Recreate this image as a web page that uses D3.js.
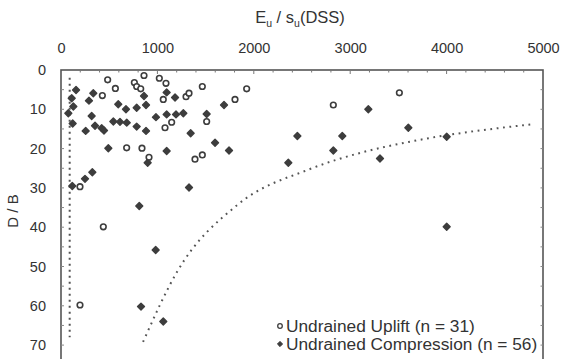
<!DOCTYPE html>
<html><head><meta charset="utf-8">
<script src="https://cdn.jsdelivr.net/npm/d3@7"></script>
<style>
html,body{margin:0;padding:0;background:#fff;}
svg{display:block;font-family:"Liberation Sans",Arial,sans-serif;}
</style></head>
<body><svg id="c" width="562" height="359"></svg>
<script>
// ---- data ----
const upliftE  = [484,564,429,761,785,827,861,1020,1089,1061,1297,1328,1466,1805,1148,1079,1511,681,840,913,1390,1466,197,1926,2825,3510,439,197];
const upliftDB = [2.5,4.7,6.5,3.2,4.2,4.8,1.4,2.1,3.4,7.5,6.8,5.9,4.2,7.5,13.3,14.7,13.1,19.8,19.9,22.2,22.7,21.6,29.7,4.8,8.9,5.8,39.9,59.8];
const compE  = [156,111,128,76,121,335,290,594,674,785,882,861,1096,1183,318,353,422,446,256,543,612,682,785,882,985,1096,1193,1269,1511,1691,1345,491,1096,1598,1743,325,249,117,1328,812,899,982,830,1061,3188,3603,2452,2918,2825,2358,3309,4001,4001];
const compDB = [5.1,7.2,9.3,11,13.6,5.9,7.8,8.7,10,9.6,8.9,6.6,5.7,7,11.7,14.2,14.8,15.4,15.5,13.1,13.2,13.4,14.4,15.5,12,11.3,11.3,11,11.2,8.9,16.1,19.9,20.6,18.5,20.5,26,27.7,29.5,29.9,34.6,23.6,45.8,60.2,64,10,14.7,16.8,16.8,20.5,23.6,22.5,17,39.9];
const curveE  = [851,1203,1826,2583,3133,3651,4886];
const curveDB = [69.2,51.4,34.4,25.2,20.9,18.1,13.8];
const boundE  = [90,90];
const boundDB = [2,68];
const xTicks = [0,1000,2000,3000,4000,5000];
const yTicks = [0,10,20,30,40,50,60,70];
const legendLabels = ["Undrained Uplift (n = 31)","Undrained Compression (n = 56)"];

const svg = d3.select("#c");
const L=61,R=543,T=70;
const x = d3.scaleLinear().domain([0,5000]).range([L,R]);
const y = d3.scaleLinear().domain([0,80]).range([T,T+80*3.93]);
const col="#3d3d3d", txt="#333";

// frame
svg.append("rect").attr("x",L).attr("y",T).attr("width",R-L).attr("height",y(80)-T)
  .attr("fill","none").attr("stroke","#555").attr("stroke-width",1.6);

// top axis
const xa = svg.append("g").attr("transform",`translate(0,${T})`)
  .call(d3.axisTop(x).tickValues(xTicks).tickSize(0).tickPadding(17).tickFormat(d3.format("d")));
xa.select(".domain").remove();
xa.selectAll("text").attr("fill",txt).attr("font-size",14.5).attr("font-family","Liberation Sans, Arial");
svg.append("g").selectAll("line").data(d3.range(200,5000,200)).join("line")
  .attr("x1",d=>x(d)).attr("x2",d=>x(d)).attr("y1",T).attr("y2",d=>T+(d%1000===0?4:2.5))
  .attr("stroke","#777").attr("stroke-width",1);

// left axis
const ya = svg.append("g").attr("transform",`translate(${L},0)`)
  .call(d3.axisLeft(y).tickValues(yTicks).tickSize(0).tickPadding(15).tickFormat(d3.format("d")));
ya.select(".domain").remove();
ya.selectAll("text").attr("fill",txt).attr("font-size",14.5).attr("font-family","Liberation Sans, Arial");
svg.append("g").selectAll("line").data(d3.range(5,75,5)).join("line")
  .attr("x1",L).attr("x2",L+3).attr("y1",d=>y(d)).attr("y2",d=>y(d))
  .attr("stroke","#888").attr("stroke-width",1);
svg.append("g").selectAll("line").data(d3.range(5,75,5)).join("line")
  .attr("x1",R).attr("x2",R-2.5).attr("y1",d=>y(d)).attr("y2",d=>y(d))
  .attr("stroke","#888").attr("stroke-width",1);

// titles
const tt = svg.append("text").attr("x",300).attr("y",23).attr("text-anchor","middle")
  .attr("font-size",16.5).attr("fill",txt);
tt.append("tspan").text("E");
tt.append("tspan").text("u").attr("font-size",10.5).attr("dy",4);
tt.append("tspan").text(" / s").attr("dy",-4);
tt.append("tspan").text("u").attr("font-size",10.5).attr("dy",4);
tt.append("tspan").text("(DSS)").attr("dy",-4);
svg.append("text").attr("transform","translate(18,211) rotate(-90)").attr("text-anchor","middle")
  .attr("font-size",15).attr("fill",txt).text("D / B");

// dotted lines
const line = d3.line().x(d=>x(d[0])).y(d=>y(d[1]));
svg.append("path").datum(d3.zip(boundE,boundDB)).attr("d",line)
  .attr("fill","none").attr("stroke","#555").attr("stroke-width",2).attr("stroke-dasharray","1.8,4.2");
svg.append("path").datum(d3.zip(curveE,curveDB)).attr("d",line.curve(d3.curveMonotoneX))
  .attr("fill","none").attr("stroke","#555").attr("stroke-width",2).attr("stroke-dasharray","1.8,4.6");

// points
const diamond = d3.symbol().type(d3.symbolSquare).size(24);
svg.append("g").selectAll("path").data(d3.zip(compE,compDB)).join("path")
  .attr("transform",d=>`translate(${x(d[0])},${y(d[1])}) rotate(45)`).attr("d",diamond)
  .attr("fill",col).attr("stroke",col).attr("stroke-width",1.4).attr("stroke-linejoin","round");
svg.append("g").selectAll("circle").data(d3.zip(upliftE,upliftDB)).join("circle")
  .attr("cx",d=>x(d[0])).attr("cy",d=>y(d[1])).attr("r",2.8)
  .attr("fill","#fff").attr("stroke",col).attr("stroke-width",1.6);

// legend
const lg = svg.append("g");
lg.append("circle").attr("cx",280).attr("cy",326).attr("r",2.3).attr("fill","#fff").attr("stroke",col).attr("stroke-width",1.3);
lg.append("path").attr("transform","translate(280,344) rotate(45)").attr("d",d3.symbol().type(d3.symbolSquare).size(14)).attr("fill",col).attr("stroke",col).attr("stroke-width",0.8);
lg.selectAll("text").data(legendLabels).join("text")
  .attr("x",286).attr("y",(d,i)=>331.5+i*18.5).attr("font-size",17.3).attr("fill",txt).text(d=>d);
</script></body></html>
